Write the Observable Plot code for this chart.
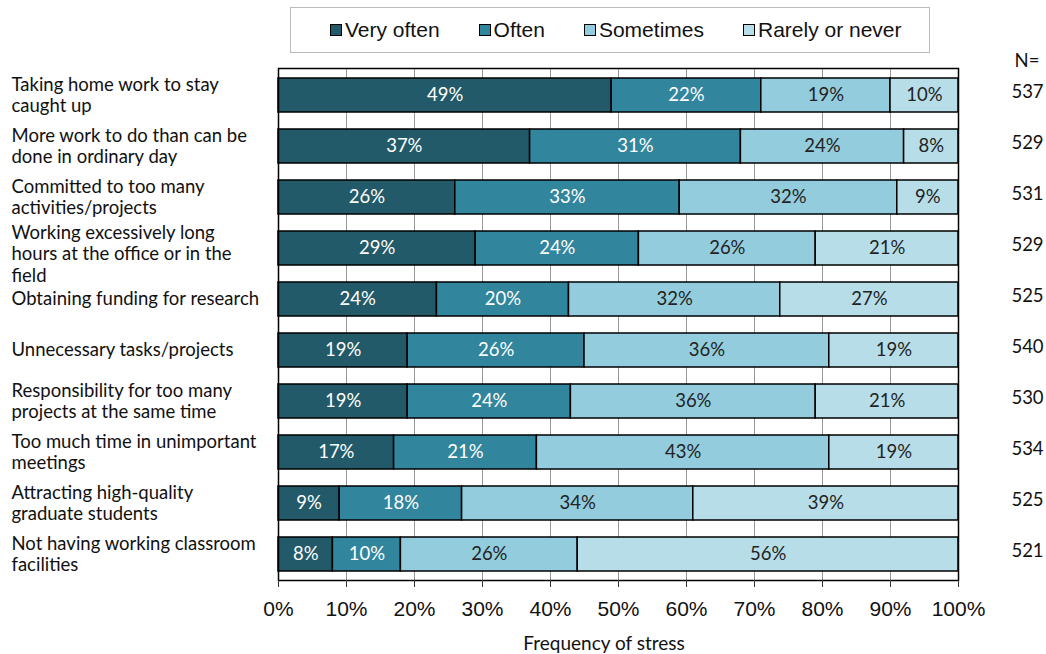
<!DOCTYPE html>
<html><head><meta charset="utf-8">
<script src="https://cdn.jsdelivr.net/npm/d3@7"></script>
<script src="https://cdn.jsdelivr.net/npm/@observablehq/plot@0.6"></script>
<style>
body{margin:0;background:#fff;}
#wrap{position:relative;width:1046px;height:654px;font-family:Lato,sans-serif;}
#chart{position:absolute;left:0;top:0;}
#legend{position:absolute;left:290px;top:7px;width:640px;height:46px;border:1px solid #bbb;box-sizing:border-box;display:flex;align-items:center;padding-left:39px;gap:39px;font-family:"Liberation Sans",Arial,sans-serif;font-size:21px;color:#111;background:#fff;}
.item{display:flex;align-items:center;}
.sw{width:10px;height:10px;border:1px solid #000;margin-right:3px;}
#nhead{position:absolute;left:1027px;top:49px;transform:translateX(-50%);font-size:18.5px;color:#111;}
#xlabel{position:absolute;left:604px;top:631px;transform:translateX(-50%);font-size:19px;color:#111;white-space:nowrap;}
</style></head>
<body>
<div id="wrap">
<div id="chart"></div>
<div id="legend"></div>
<div id="nhead">N=</div>
<div id="xlabel">Frequency of stress</div>
</div>
<script>
const categories = [
  "Taking home work to stay\ncaught up",
  "More work to do than can be\ndone in ordinary day",
  "Committed to too many\nactivities/projects",
  "Working excessively long\nhours at the office or in the\nfield",
  "Obtaining funding for research",
  "Unnecessary tasks/projects",
  "Responsibility for too many\nprojects at the same time",
  "Too much time in unimportant\nmeetings",
  "Attracting high-quality\ngraduate students",
  "Not having working classroom\nfacilities"
];
const series = ["Very often", "Often", "Sometimes", "Rarely or never"];
const veryOften = [49, 37, 26, 29, 24, 19, 19, 17, 9, 8];
const often     = [22, 31, 33, 24, 20, 26, 24, 21, 18, 10];
const sometimes = [19, 24, 32, 26, 32, 36, 36, 43, 34, 26];
const rarely    = [10, 8, 9, 21, 27, 19, 21, 19, 39, 56];
const nValues   = [537, 529, 531, 529, 525, 540, 530, 534, 525, 521];
const xTicks    = [0, 0.1, 0.2, 0.3, 0.4, 0.5, 0.6, 0.7, 0.8, 0.9, 1];
const colors    = ["#235A6A", "#31869E", "#93CDDD", "#B7DEE8"];
const lightSeries = ["Sometimes", "Rarely or never"];

const seriesValues = [veryOften, often, sometimes, rarely];
const data = categories.flatMap((c, i) =>
  seriesValues.map((arr, j) => ({category: c, series: series[j], value: arr[i]})));
const nRows = categories.map((c, i) => ({category: c, n: nValues[i]}));
const lines = d => d.split("\n").length;

const fmt = d3.format(".0%");
const labelStyle = {y: d => d, text: d => d, frameAnchor: "left", dx: -267, textAnchor: "start",
  lineHeight: 1.16, fontSize: 18.5, fill: "#111"};
const chart = Plot.plot({
  width: 1046,
  height: 654,
  marginTop: 68,
  marginBottom: 74,
  marginLeft: 278,
  marginRight: 88,
  style: {fontFamily: "Lato, sans-serif", color: "#111", background: "transparent"},
  x: {domain: [0, 1], ticks: xTicks, tickFormat: fmt},
  y: {domain: categories, paddingInner: 0.335, paddingOuter: 0.176, axis: null},
  color: {domain: series, range: colors},
  marks: [
    Plot.gridX(xTicks.slice(1, -1), {stroke: "#999", strokeOpacity: 1, strokeWidth: 1}),
    Plot.barX(data, Plot.stackX({x: "value", y: "category", fill: "series", offset: "normalize", stroke: "#000", strokeWidth: 1.5})),
    Plot.text(data, Plot.stackX({x: "value", y: "category", z: "series", offset: "normalize",
      text: d => lightSeries.includes(d.series) ? null : d.value + "%", fill: "#fff", fontSize: 18.5})),
    Plot.text(data, Plot.stackX({x: "value", y: "category", z: "series", offset: "normalize",
      text: d => lightSeries.includes(d.series) ? d.value + "%" : null, fill: "#222", fontSize: 18.5})),
    Plot.frame({stroke: "#000", strokeWidth: 1.5}),
    Plot.axisX({ticks: xTicks, tickFormat: fmt, tickSize: 7, tickPadding: 14, fontSize: 21,
      fontFamily: "Liberation Sans, Arial, sans-serif", label: null, stroke: "#333"}),
    Plot.text(categories, {...labelStyle, filter: d => lines(d) < 3, dy: -1}),
    Plot.text(categories, {...labelStyle, filter: d => lines(d) >= 3, dy: 5}),
    Plot.text(nRows, {y: "category", text: "n", frameAnchor: "right", textAnchor: "middle", dx: 69, dy: -3, fontSize: 18.5, fill: "#111"})
  ]
});
document.getElementById("chart").appendChild(chart);

const legend = document.getElementById("legend");
series.forEach((s, i) => {
  const it = document.createElement("div");
  it.className = "item";
  const sw = document.createElement("span");
  sw.className = "sw";
  sw.style.background = colors[i];
  const t = document.createElement("span");
  t.textContent = s;
  it.appendChild(sw);
  it.appendChild(t);
  legend.appendChild(it);
});
</script>
</body></html>
